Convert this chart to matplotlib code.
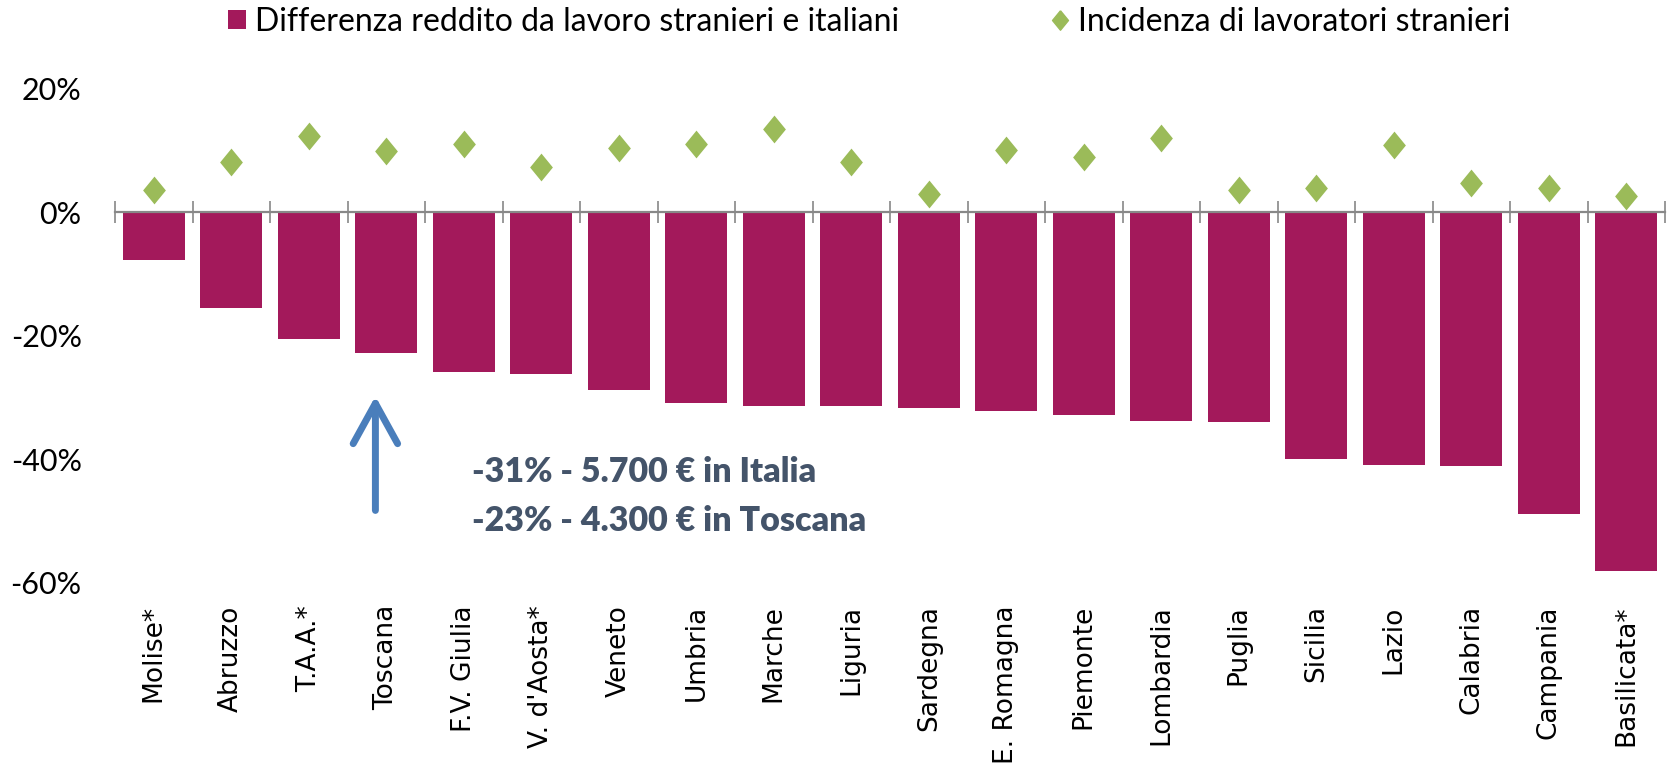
import numpy as np
import matplotlib.pyplot as plt
from matplotlib.patches import Patch
from matplotlib.lines import Line2D
from matplotlib.ticker import FuncFormatter, FixedLocator

# regioni ordinate per differenza di reddito
regioni = ['Molise*', 'Abruzzo', 'T.A.A.*', 'Toscana', 'F.V. Giulia', "V. d'Aosta*",
           'Veneto', 'Umbria', 'Marche', 'Liguria', 'Sardegna', 'E. Romagna',
           'Piemonte', 'Lombardia', 'Puglia', 'Sicilia', 'Lazio', 'Calabria',
           'Campania', 'Basilicata*']

# differenza reddito da lavoro stranieri vs italiani
diff_reddito = [-0.077, -0.154, -0.205, -0.228, -0.259, -0.262, -0.288, -0.309,
                -0.313, -0.314, -0.317, -0.322, -0.328, -0.338, -0.340, -0.400,
                -0.409, -0.410, -0.488, -0.580]

# incidenza di lavoratori stranieri
incidenza = [0.036, 0.082, 0.124, 0.099, 0.111, 0.073, 0.105, 0.111, 0.136, 0.081,
             0.030, 0.101, 0.090, 0.120, 0.036, 0.039, 0.109, 0.047, 0.040, 0.026]

nota = ['-31% - 5.700 € in Italia', '-23% - 4.300 € in Toscana']

viola = '#A3195B'
verde = '#9BBB59'
grigio = '#888888'

fig = plt.figure(figsize=(16.69, 7.71), dpi=100)
ax = fig.add_axes([115 / 1669, 1 - 583 / 771, 1550 / 1669, 494 / 771])

x = np.arange(len(regioni))
ax.bar(x, diff_reddito, width=0.8, color=viola, zorder=2)

# diamante un po' stretto come in Excel
rombo = [(0, 1), (0.82, 0), (0, -1), (-0.82, 0), (0, 1)]
ax.scatter(x, incidenza, marker=rombo, s=20 ** 2, color=verde, linewidths=0, zorder=3)

ax.set_xlim(-0.5, len(regioni) - 0.5)
ax.set_ylim(-0.6, 0.2)
ax.set_yticks([-0.6, -0.4, -0.2, 0, 0.2])
ax.yaxis.set_major_formatter(FuncFormatter(lambda v, p: f'{v * 100:.0f}%'))
ax.tick_params(axis='y', length=0, pad=24, labelsize=22)
for t in ax.get_yticklabels():
    t.set_family('Lato')

for s in ['top', 'right', 'left']:
    ax.spines[s].set_visible(False)
ax.spines['bottom'].set_position(('data', 0))
ax.spines['bottom'].set_color(grigio)
ax.spines['bottom'].set_linewidth(1.6)
ax.spines['bottom'].set_zorder(4)
ax.set_xticks([])
ax.xaxis.set_minor_locator(FixedLocator(np.arange(len(regioni) + 1) - 0.5))
ax.tick_params(axis='x', which='minor', direction='inout', length=15.6,
               width=1.2, color=grigio)

# etichette in basso
sec = ax.secondary_xaxis('bottom')
sec.set_xticks(x, regioni, rotation=90, fontsize=19, family='DejaVu Sans')
sec.tick_params(length=0, pad=16)
sec.spines['bottom'].set_visible(False)

# freccia e nota
ax.annotate('', xy=(2.86, -0.293), xytext=(2.86, -0.487),
            arrowprops=dict(arrowstyle='->, head_length=2.9, head_width=1.6',
                            lw=5, color='#4A7EBB', mutation_scale=10,
                            capstyle='round', joinstyle='round'))
ax.text(4.11, -0.421, nota[0], fontsize=24.5, fontweight='heavy', family='Lato',
        color='#44546A', ha='left', va='center')
ax.text(4.11, -0.50, nota[1], fontsize=24.5, fontweight='heavy', family='Lato',
        color='#44546A', ha='left', va='center')

handles = [Patch(facecolor=viola, edgecolor='none'),
           Line2D([], [], marker=rombo, color=verde, linestyle='none', markersize=14)]
labels = ['Differenza reddito da lavoro stranieri e italiani',
          'Incidenza di lavoratori stranieri']
fig.legend(handles, labels, loc='center', bbox_to_anchor=(0.521, 0.972), ncol=2,
           frameon=False, prop={'family': 'Lato', 'size': 23}, handlelength=0.55,
           handleheight=0.55, handletextpad=0.3, columnspacing=4.75)

fig.savefig('out.png', dpi=100)
